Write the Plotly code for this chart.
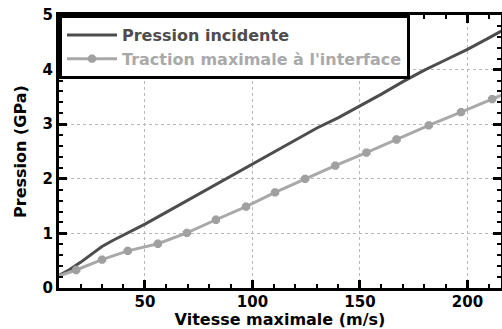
import plotly.graph_objects as go

# Pression incidente
x_inc = [10, 15, 20, 25, 30, 35, 40, 50, 60, 70, 80, 90, 100, 110, 120, 130, 140, 150, 160, 170, 180, 190, 200, 210, 220]
y_inc = [0.23, 0.34, 0.47, 0.62, 0.76, 0.87, 0.97, 1.17, 1.39, 1.61, 1.83, 2.05, 2.27, 2.49, 2.72, 2.93, 3.12, 3.33, 3.55, 3.78, 3.99, 4.18, 4.37, 4.58, 4.80]

# Traction maximale à l'interface
x_tr = [4, 18, 30, 42, 56, 69.5, 83, 97, 110.5, 124.5, 138.5, 153, 167, 182, 197, 211.5, 226]
y_tr = [0.14, 0.33, 0.52, 0.68, 0.81, 1.01, 1.25, 1.49, 1.75, 2.00, 2.24, 2.48, 2.72, 2.98, 3.22, 3.46, 3.70]

name_inc = "Pression incidente"
name_tr = "Traction maximale à l'interface"

x_ticks = [50, 100, 150, 200]
y_ticks = [0, 1, 2, 3, 4, 5]

FONT = "DejaVu Sans"
DARK = "#4d4d4d"
LIGHT = "#a9a9a9"

fig = go.Figure()
fig.add_trace(go.Scatter(
    x=x_inc, y=y_inc, mode="lines",
    name=f"<span style='color:{DARK}'>{name_inc}</span>",
    line=dict(color=DARK, width=3),
))
fig.add_trace(go.Scatter(
    x=x_tr, y=y_tr, mode="lines+markers",
    name=f"<span style='color:{LIGHT}'>{name_tr}</span>",
    line=dict(color=LIGHT, width=3),
    marker=dict(color="#a0a0a0", size=9, symbol="octagon"),
))

axis_common = dict(
    showline=True, linecolor="black", linewidth=3, mirror="allticks",
    ticks="inside", ticklen=8, tickwidth=2.5, tickcolor="black",
    showgrid=True, gridcolor="#b8b8b8", griddash="dot", gridwidth=1,
    zeroline=False, automargin=False,
    tickfont=dict(family=FONT, size=15, color="black", weight="bold"),
)

fig.update_xaxes(
    range=[10, 215.6], tickvals=x_ticks, ticklabelstandoff=-2,
    minor=dict(ticks="inside", dtick=10, tick0=0, ticklen=4, tickwidth=2, tickcolor="black", showgrid=False),
    title=dict(text="Vitesse maximale (m/s)", font=dict(family=FONT, size=16, color="black", weight="bold"), standoff=0),
    **axis_common,
)
fig.update_yaxes(
    range=[0, 5], tickvals=y_ticks,
    minor=dict(ticks="inside", dtick=0.2, tick0=0, ticklen=4, tickwidth=2, tickcolor="black", showgrid=False),
    title=dict(text="Pression (GPa)", font=dict(family=FONT, size=16, color="black", weight="bold"), standoff=12),
    **axis_common,
)

fig.update_layout(
    width=502, height=329,
    margin=dict(l=59, r=1, t=15, b=41),
    paper_bgcolor="white", plot_bgcolor="white",
    showlegend=True,
    legend=dict(
        x=0, y=1, xanchor="left", yanchor="top",
        bgcolor="white", bordercolor="black", borderwidth=3,
        font=dict(family=FONT, size=16, color="black", weight="bold"),
        itemwidth=50,
    ),
)

fig.write_html(
    "out.html",
    config={"displayModeBar": False},
    post_script="document.body.style.margin='0';document.body.style.overflow='hidden';",
)
